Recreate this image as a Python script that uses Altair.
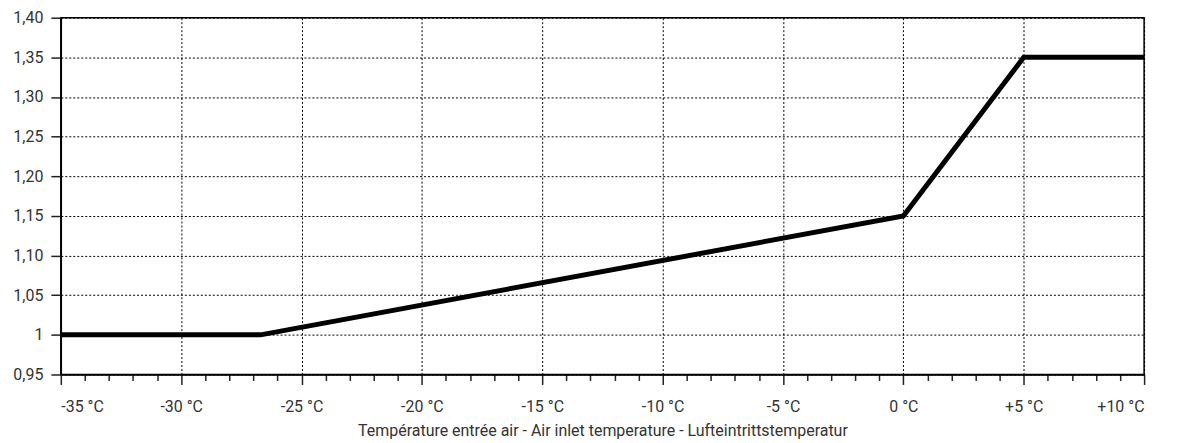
import altair as alt
import pandas as pd

temps = [-35, -26.7, 0, 5, 10]
factors = [1.0, 1.0, 1.15, 1.35, 1.35]
x_ticks = list(range(-35, 11))
y_ticks = [0.95, 1.0, 1.05, 1.10, 1.15, 1.20, 1.25, 1.30, 1.35, 1.40]
x_title = "Température entrée air - Air inlet temperature - Lufteintrittstemperatur"

df = pd.DataFrame({"t": temps, "f": factors})

FONT = "Liberation Sans Narrow, Roboto, sans-serif"
TXT = "#333333"
major = "datum.value % 5 === 0"

chart = alt.Chart(df).mark_line(color="black", strokeWidth=5, strokeJoin="miter", strokeCap="butt").encode(
    x=alt.X("t:Q", scale=alt.Scale(domain=[-35, 10], nice=False, zero=False),
            axis=alt.Axis(
                values=x_ticks,
                title=x_title,
                labelExpr="datum.value % 5 !== 0 ? '' : (datum.value > 0 ? '+' + datum.value + ' °C' : datum.value + ' °C')",
                tickSize={"condition": {"test": major, "value": 10}, "value": 6},
                gridOpacity={"condition": {"test": major, "value": 1}, "value": 0},
                gridColor="black", gridDash=[2, 2], gridWidth=1,
                domainColor="black", domainWidth=1.5, tickColor="#222222", tickWidth=1.5,
                labelFont=FONT, labelFontSize=16, labelColor=TXT, labelPadding=14,
                titleFont=FONT, titleFontSize=16, titleColor=TXT, titleFontWeight="normal",
                titlePadding=8,
            )),
    y=alt.Y("f:Q", scale=alt.Scale(domain=[0.95, 1.40], nice=False, zero=False),
            axis=alt.Axis(
                values=y_ticks,
                title=None,
                labelExpr="abs(datum.value - 1) < 1e-9 ? '1' : replace(format(datum.value, '.2f'), '.', ',')",
                tickSize=10,
                gridColor="black", gridDash=[2, 2], gridWidth=1,
                domainColor="black", domainWidth=1.5, tickColor="#222222", tickWidth=1.5,
                labelFont=FONT, labelFontSize=16, labelColor=TXT, labelPadding=8,
            )),
).properties(
    width=1087, height=358,
    autosize=alt.AutoSizeParams(type="none"),
    padding={"left": 53, "top": 9, "right": 30, "bottom": 68},
).configure_view(stroke="black", strokeWidth=1.5)

chart.save("out.html", embed_options={"renderer": "svg", "actions": False})
